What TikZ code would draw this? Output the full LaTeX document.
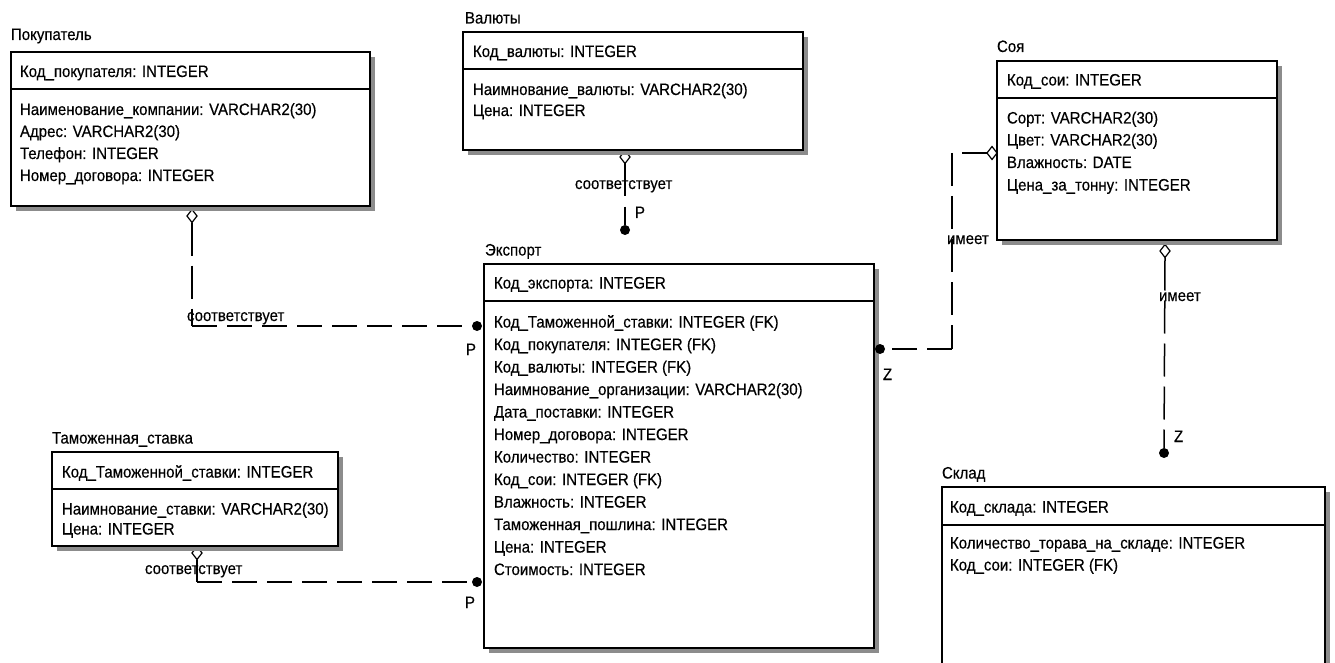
\documentclass[tikz,border=0pt]{standalone}
\usepackage{fontspec}
\setmainfont{Liberation Sans}[FakeStretch=0.91, FakeBold=0.35]
\usetikzlibrary{shapes.geometric}
\newcommand\ERbox[5]{%
  \fill[black!45] (#2+5,#3+5) rectangle (#4+5,#5+5);
  \node[ent, minimum width=#4-#2, minimum height=#5-#3] (#1) at (#2,#3) {};
}
\begin{document}
\begin{tikzpicture}[x=1pt,y=-1pt,
  every node/.style={font=\fontsize{16.5}{19}\selectfont, inner sep=0pt, outer sep=0pt},
  txt/.style={anchor=base west},
  ent/.style={draw, line width=1.4pt, fill=white, anchor=north west},
  divl/.style={line width=1.4pt},
  dia/.style={shape=diamond, draw, fill=white, line width=1.2pt, minimum width=10pt, minimum height=13pt},
  dot/.style={circle, fill=black, minimum size=10pt},
  vd/.style={line width=1.5pt, dash pattern=on 33pt off 10pt},
  hd/.style={line width=1.5pt, dash pattern=on 25pt off 10pt},
]
\useasboundingbox (0,0) rectangle (1335,663);
\fill[white] (0,0) rectangle (1335,663);

% diamonds (drawn first so that shadows overlap their tops)
\node[dia] (dPok) at (192,216) {};
\node[dia] (dTam) at (197,553) {};
\node[dia] (dVal) at (625,157) {};
\node[dia] (dSoyB) at (1165,251) {};
\node[dia] (dSoyL) at (992,153) {};

% Покупатель
\node[txt] (pokT) at (11,40) {Покупатель};
\ERbox{pok}{11}{52}{370}{206}
\draw[divl] (pok.west |- 0,89) -- (pok.east |- 0,89);
\node[txt] (pok0) at (20,77) {Код\_покупателя: INTEGER};
\node[txt] (pok1) at (20,115) {Наименование\_компании: VARCHAR2(30)};
\node[txt] (pok2) at (20,137) {Адрес: VARCHAR2(30)};
\node[txt] (pok3) at (20,159) {Телефон: INTEGER};
\node[txt] (pok4) at (20,181) {Номер\_договора: INTEGER};

% Валюты
\node[txt] (valT) at (465,23.5) {Валюты};
\ERbox{val}{463}{32}{803}{150}
\draw[divl] (val.west |- 0,69) -- (val.east |- 0,69);
\node[txt] (val0) at (473,57) {Код\_валюты: INTEGER};
\node[txt] (val1) at (473,95) {Наимнование\_валюты: VARCHAR2(30)};
\node[txt] (val2) at (473,116) {Цена: INTEGER};

% Соя
\node[txt] (soyT) at (997,52) {Соя};
\ERbox{soy}{997}{61}{1277}{240}
\draw[divl] (soy.west |- 0,98) -- (soy.east |- 0,98);
\node[txt] (soy0) at (1007,85.5) {Код\_сои: INTEGER};
\node[txt] (soy1) at (1007,123.5) {Сорт: VARCHAR2(30)};
\node[txt] (soy2) at (1007,145.5) {Цвет: VARCHAR2(30)};
\node[txt] (soy3) at (1007,168) {Влажность: DATE};
\node[txt] (soy4) at (1007,190.5) {Цена\_за\_тонну: INTEGER};

% Экспорт
\node[txt] (expT) at (485,255.5) {Экспорт};
\ERbox{exp}{484}{264}{874}{648}
\draw[divl] (exp.west |- 0,301) -- (exp.east |- 0,301);
\node[txt] (exp0) at (494,288.5) {Код\_экспорта: INTEGER};
\node[txt] (exp1) at (494,327.5) {Код\_Таможенной\_ставки: INTEGER (FK)};
\node[txt] (exp2) at (494,350) {Код\_покупателя: INTEGER (FK)};
\node[txt] (exp3) at (494,372.5) {Код\_валюты: INTEGER (FK)};
\node[txt] (exp4) at (494,395) {Наимнование\_организации: VARCHAR2(30)};
\node[txt] (exp5) at (494,417.5) {Дата\_поставки: INTEGER};
\node[txt] (exp6) at (494,440) {Номер\_договора: INTEGER};
\node[txt] (exp7) at (494,462.5) {Количество: INTEGER};
\node[txt] (exp8) at (494,485) {Код\_сои: INTEGER (FK)};
\node[txt] (exp9) at (494,507.5) {Влажность: INTEGER};
\node[txt] (exp10) at (494,530) {Таможенная\_пошлина: INTEGER};
\node[txt] (exp11) at (494,552.5) {Цена: INTEGER};
\node[txt] (exp12) at (494,575) {Стоимость: INTEGER};

% Таможенная_ставка
\node[txt] (tamT) at (52,443.5) {Таможенная\_ставка};
\ERbox{tam}{52}{452}{338}{546}
\draw[divl] (tam.west |- 0,489) -- (tam.east |- 0,489);
\node[txt] (tam0) at (62,477.5) {Код\_Таможенной\_ставки: INTEGER};
\node[txt] (tam1) at (62,514.5) {Наимнование\_ставки: VARCHAR2(30)};
\node[txt] (tam2) at (62,534.5) {Цена: INTEGER};

% Склад
\node[txt] (sklT) at (942,478.5) {Склад};
\ERbox{skl}{942}{487}{1325}{680}
\draw[divl] (skl.west |- 0,525) -- (skl.east |- 0,525);
\node[txt] (skl0) at (950,512.5) {Код\_склада: INTEGER};
\node[txt] (skl1) at (950,548.5) {Количество\_торава\_на\_складе: INTEGER};
\node[txt] (skl2) at (950,570.5) {Код\_сои: INTEGER (FK)};

% dots
\node[dot] (ePok) at (477,326) {};
\node[dot] (eTam) at (477,582) {};
\node[dot] (eVal) at (625,230) {};
\node[dot] (eSoy) at (880,349) {};
\node[dot] (sSoy) at (1164,453) {};

% connectors
\coordinate (cPok) at (192,326);
\draw[vd] (dPok.south) -- (cPok);
\draw[hd] (cPok) -- (ePok.west);
\coordinate (cTam) at (197,582);
\draw[vd] (dTam.south) -- (cTam);
\draw[hd] (cTam) -- (eTam.west);
\draw[vd] (dVal.south) -- (eVal.north);
\draw[vd] (dSoyB.south) -- (sSoy.north);
\coordinate (c1) at (952,153);
\coordinate (c2) at (952,349);
\draw[hd] (dSoyL.west) -- (c1);
\draw[vd] (c1) -- (c2);
\draw[hd] (c2) -- (eSoy.east);

% labels
\node[txt] (l1) at (187,321) {соответствует};
\node[txt] (l2) at (145,574) {соответствует};
\node[txt] (l3) at (575,189) {соответствует};
\node[txt] (p1) at (466,355) {P};
\node[txt] (p2) at (465,608) {P};
\node[txt] (p3) at (635,218) {P};
\node[txt] (z1) at (883,380) {Z};
\node[txt] (z2) at (1174,442) {Z};
\node[txt] (i1) at (947,244) {имеет};
\node[txt] (i2) at (1159,301) {имеет};
\end{tikzpicture}
\end{document}
